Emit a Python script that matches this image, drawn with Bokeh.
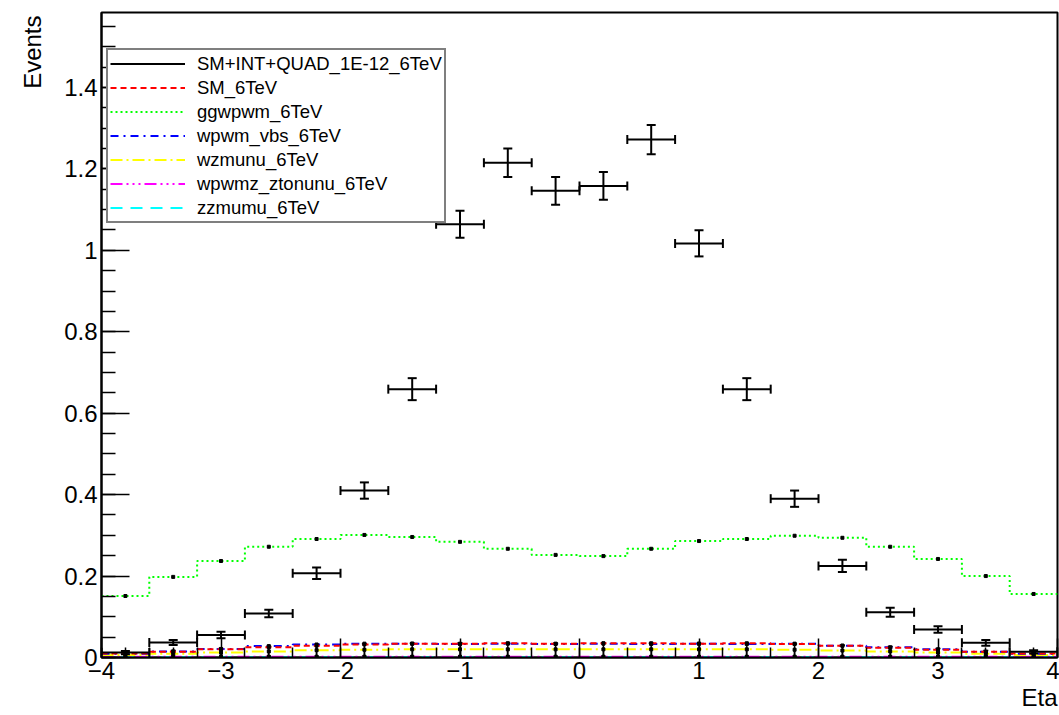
import numpy as np
from bokeh.plotting import figure
from bokeh.models import (Range1d, FixedTicker, CustomJSTickFormatter, Title,
                          Legend, LegendItem, ColumnDataSource)
from bokeh.embed import file_html
from bokeh.resources import INLINE

# ---------------- data ----------------
bin_edges = [-4.0, -3.6, -3.2, -2.8, -2.4, -2.0, -1.6, -1.2, -0.8, -0.4, 0.0,
             0.4, 0.8, 1.2, 1.6, 2.0, 2.4, 2.8, 3.2, 3.6, 4.0]

sm_int_quad = [0.012, 0.037, 0.055, 0.108, 0.207, 0.410, 0.659, 1.064, 1.215, 1.146,
               1.158, 1.272, 1.017, 0.659, 0.390, 0.225, 0.111, 0.069, 0.036, 0.014]
sm_int_quad_err = [0.004, 0.006, 0.008, 0.009, 0.014, 0.020, 0.027, 0.033, 0.035, 0.034,
                   0.034, 0.036, 0.032, 0.027, 0.020, 0.015, 0.011, 0.008, 0.007, 0.004]
sm = [0.010, 0.014, 0.020, 0.025, 0.029, 0.032, 0.034, 0.034, 0.035, 0.034,
      0.035, 0.035, 0.034, 0.035, 0.033, 0.029, 0.024, 0.019, 0.014, 0.010]
ggwpwm = [0.151, 0.198, 0.237, 0.272, 0.291, 0.301, 0.296, 0.284, 0.267, 0.252,
          0.249, 0.267, 0.286, 0.291, 0.299, 0.294, 0.272, 0.242, 0.200, 0.156]
wpwm_vbs = [0.009, 0.015, 0.021, 0.028, 0.032, 0.034, 0.034, 0.033, 0.034, 0.033,
            0.034, 0.033, 0.034, 0.033, 0.034, 0.029, 0.025, 0.020, 0.014, 0.009]
wzmunu = [0.006, 0.009, 0.012, 0.015, 0.018, 0.019, 0.020, 0.020, 0.020, 0.020,
          0.020, 0.020, 0.020, 0.020, 0.019, 0.017, 0.015, 0.012, 0.009, 0.006]
wzmunu_err = [0.006, 0.008, 0.010, 0.012, 0.014, 0.015, 0.015, 0.016, 0.015, 0.015,
              0.015, 0.015, 0.015, 0.015, 0.014, 0.013, 0.012, 0.010, 0.008, 0.006]
wpwmz_ztonunu = [0.002, 0.002, 0.002, 0.002, 0.002, 0.002, 0.002, 0.002, 0.002, 0.002,
                 0.002, 0.002, 0.002, 0.002, 0.002, 0.002, 0.002, 0.002, 0.002, 0.002]
zzmumu = [0.001, 0.001, 0.001, 0.001, 0.001, 0.001, 0.001, 0.001, 0.001, 0.001,
          0.001, 0.001, 0.001, 0.001, 0.001, 0.001, 0.001, 0.001, 0.001, 0.001]

y_major = [0.0, 0.2, 0.4, 0.6, 0.8, 1.0, 1.2, 1.4]
x_major = [-4, -3, -2, -1, 0, 1, 2, 3, 4]
Y_MAX = 1.584

FONT = "Liberation Sans"

edges = np.array(bin_edges)
lo = edges[:-1]
hi = edges[1:]
ctr = 0.5 * (lo + hi)

p = figure(width=1059, height=715, x_range=Range1d(-4, 4), y_range=Range1d(0, Y_MAX),
           output_backend="svg", toolbar_location=None,
           min_border_left=100, min_border_right=2, min_border_top=12, min_border_bottom=58)
p.background_fill_color = "white"
p.border_fill_color = "white"
p.outline_line_color = "black"
p.outline_line_width = 2
p.outline_line_alpha = 1
p.xgrid.visible = False
p.ygrid.visible = False

# axes
p.yaxis.ticker = FixedTicker(ticks=y_major, minor_ticks=list(np.round(np.arange(0, 1.6, 0.05), 3)))
p.xaxis.ticker = FixedTicker(ticks=x_major, minor_ticks=list(np.round(np.arange(-4, 4.01, 0.2), 3)))
p.yaxis.formatter = CustomJSTickFormatter(code="return tick.toFixed(1).replace(/\\.0$/, '');")
p.xaxis.formatter = CustomJSTickFormatter(code="return tick < 0 ? '\\u2212' + Math.abs(tick) : String(tick);")
for ax, maj, mnr, stand in ((p.yaxis, 28, 14, 4), (p.xaxis, 19, 10, 4)):
    ax.major_tick_in = maj
    ax.major_tick_out = 0
    ax.minor_tick_in = mnr
    ax.minor_tick_out = 0
    ax.major_tick_line_width = 1.5
    ax.minor_tick_line_width = 1.5
    ax.major_tick_line_color = "black"
    ax.minor_tick_line_color = "black"
    ax.axis_line_color = "black"
    ax.axis_line_width = 2
    ax.major_label_text_font = FONT
    ax.major_label_text_font_size = "24px"
    ax.major_label_text_color = "black"
    ax.major_label_standoff = stand

def hist(vals, color, dash):
    xs = list(edges)
    ys = list(vals) + [vals[-1]]
    r = p.step(xs, ys, mode="after", line_color=color, line_width=2, line_dash=dash)
    p.scatter(ctr, vals, marker="square", size=3, color="black")
    return r

# small series
r_zz = hist(zzmumu, "#00ffff", "12 8")
r_wwz = hist(wpwmz_ztonunu, "#ff00ff", "12 4 2 4 2 4 2 4")
wz_arr = np.array(wzmunu)
wz_e = np.array(wzmunu_err)
p.segment(ctr, wz_arr - wz_e, ctr, wz_arr + wz_e, line_color="black", line_width=1.5)
p.scatter(ctr, wz_arr + wz_e, marker="dash", size=5, line_color="black", line_width=1.5)
r_wz = hist(wzmunu, "#ffff00", "12 4 2 4")
r_vbs = hist(wpwm_vbs, "#0000ff", "8 5 2 5")
r_sm = hist(sm, "#ff0000", "6 4")
r_gg = hist(ggwpwm, "#00ff00", "2 3")

# main black histogram with error bars
v = np.array(sm_int_quad)
e = np.array(sm_int_quad_err)
src = ColumnDataSource(dict(ctr=ctr, lo=lo, hi=hi, v=v, top=v + e, bot=v - e))
r_main = p.segment("lo", "v", "hi", "v", source=src, line_color="black", line_width=2)
p.segment("ctr", "bot", "ctr", "top", source=src, line_color="black", line_width=2)
p.scatter("ctr", "top", source=src, marker="dash", size=9, line_color="black", line_width=2)
p.scatter("ctr", "bot", source=src, marker="dash", size=9, line_color="black", line_width=2)
p.scatter("lo", "v", source=src, marker="dash", size=9, angle=np.pi / 2, line_color="black", line_width=2)
p.scatter("hi", "v", source=src, marker="dash", size=9, angle=np.pi / 2, line_color="black", line_width=2)

legend = Legend(items=[
    LegendItem(label="SM+INT+QUAD_1E-12_6TeV", renderers=[r_main]),
    LegendItem(label="SM_6TeV", renderers=[r_sm]),
    LegendItem(label="ggwpwm_6TeV", renderers=[r_gg]),
    LegendItem(label="wpwm_vbs_6TeV", renderers=[r_vbs]),
    LegendItem(label="wzmunu_6TeV", renderers=[r_wz]),
    LegendItem(label="wpwmz_ztonunu_6TeV", renderers=[r_wwz]),
    LegendItem(label="zzmumu_6TeV", renderers=[r_zz]),
], location=(5, 434))
legend.border_line_color = "black"
legend.border_line_width = 2
legend.background_fill_color = "white"
legend.background_fill_alpha = 1
legend.label_text_font = FONT
legend.label_text_font_size = "18.5px"
legend.label_text_color = "black"
legend.glyph_width = 75
legend.glyph_height = 23
legend.label_height = 23
legend.label_standoff = 12
legend.spacing = 1
legend.padding = 2
legend.margin = 0
p.add_layout(legend, "center")

p.add_layout(Title(text="Events", align="right", text_font=FONT, text_font_size="24px",
                   text_font_style="normal", text_color="black", standoff=32, offset=3), "left")
p.add_layout(Title(text="Eta", align="right", text_font=FONT, text_font_size="24px",
                   text_font_style="normal", text_color="black", standoff=0), "below")

open("out.html", "w").write(file_html(p, INLINE))
